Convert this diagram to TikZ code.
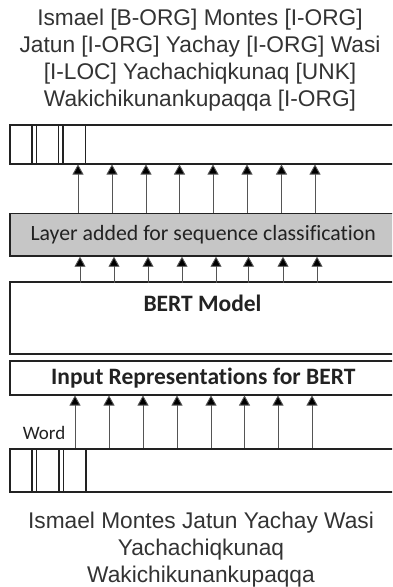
\documentclass[tikz,border=0pt]{standalone}
\usepackage{fontspec}
\setmainfont{Liberation Sans}
\newfontfamily\carlitofont[Ligatures={NoCommon}]{Carlito}
\usetikzlibrary{arrows.meta}
\definecolor{txtgray}{HTML}{333333}
\definecolor{boxline}{HTML}{222222}
\definecolor{layerfill}{HTML}{C6C6C6}
\definecolor{arrline}{HTML}{555555}
\tikzset{
  box/.style={draw=boxline, line width=1.5pt, rectangle, inner sep=0pt, anchor=north west, minimum width=387pt},
  arr/.style={draw=arrline, line width=0.9pt, -{Triangle[width=11pt,length=10pt,fill=black]}},
  sep/.style={draw=boxline, line width=1.5pt},
  big/.style={font=\fontsize{22.7}{26.8}\selectfont, text=txtgray, align=center, inner sep=0pt},
  lab/.style={font=\carlitofont\fontsize{23.5}{26}\selectfont\bfseries, text=boxline, inner sep=0pt}
}
\begin{document}
\begin{tikzpicture}[x=1pt,y=-1pt]
\clip (0,0) rectangle (392,587);
\fill[white] (0,0) rectangle (392,587);
% top text
\node[big, anchor=north] (toptxt) at (200,9) {Ismael [B-ORG] Montes [I-ORG]\\Jatun [I-ORG] Yachay [I-ORG] Wasi\\\relax{}[I-LOC] Yachachiqkunaq [UNK]\\Wakichikunankupaqqa [I-ORG]};
% top box
\node[box, minimum height=39pt] (topbox) at (9,124) {};
\foreach \x in {32,36.5,58.5,63,85.5}
  \draw[sep] (topbox.north -| \x,0) -- (topbox.south -| \x,0);
% layer box
\node[box, fill=layerfill, minimum height=42.5pt] (layer) at (9,212.7) {};
\node[font=\carlitofont\fontsize{21.8}{24}\selectfont, text=boxline, inner sep=0pt] (layertxt) at (layer.center) {Layer added for sequence classification};
\foreach \x in {78,112,146,179.5,213,247,281.5,315}
  \draw[arr] (layer.north -| \x,0) -- (topbox.south -| \x,0);
% BERT box
\node[box, minimum height=72pt] (bert) at (9,281) {};
\node[lab] (berttxt) at (202.5,303) {BERT Model};
\foreach \x in {80,114,148,182,216,248.5,283,317}
  \draw[arr] ([yshift=-2pt]bert.north -| \x,0) -- (layer.south -| \x,0);
% Input representations box
\node[box, minimum height=34pt] (input) at (9,360) {};
\node[lab] (inputtxt) at (input.center) {Input Representations for BERT};
% word box
\node[box, minimum height=43pt] (wordbox) at (9,448) {};
\foreach \x in {32,36.5,59,63.5,86}
  \draw[sep] (wordbox.north -| \x,0) -- (wordbox.south -| \x,0);
\foreach \x in {75,109,143,177,211,244.5,278,312}
  \draw[arr] (wordbox.north -| \x,0) -- (input.south -| \x,0);
\node[font=\carlitofont\fontsize{19}{22}\selectfont, text=boxline, inner sep=0pt] (word) at (44,433) {Word};
% bottom text
\node[big, anchor=north] (bottxt) at (201,512) {Ismael Montes Jatun Yachay Wasi\\Yachachiqkunaq\\Wakichikunankupaqqa};
\end{tikzpicture}
\end{document}
